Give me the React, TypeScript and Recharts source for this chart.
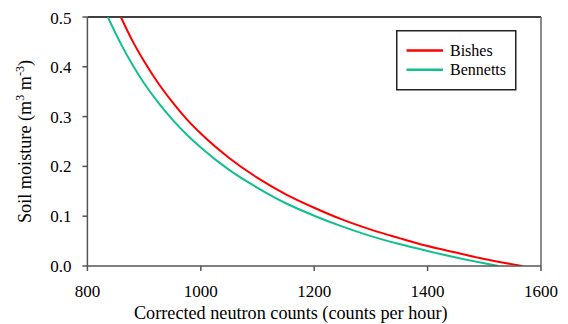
import React from 'react';
import { LineChart, Line, XAxis, YAxis, ReferenceLine } from 'recharts';

const seriesNames = ['Bishes', 'Bennetts'];
const seriesColors = ['#FF0000', '#12C08E'];

const bishesCounts = [859, 880, 900, 925, 950, 975, 1000, 1050, 1100, 1150, 1200, 1250, 1300, 1350, 1400, 1450, 1500, 1567];
const bishesMoisture = [0.5, 0.451, 0.411, 0.367, 0.329, 0.295, 0.266, 0.217, 0.177, 0.144, 0.117, 0.093, 0.073, 0.056, 0.04, 0.027, 0.014, 0.0];

const bennettsCounts = [836, 860, 880, 900, 925, 950, 975, 1000, 1050, 1100, 1150, 1200, 1250, 1300, 1350, 1400, 1450, 1525];
const bennettsMoisture = [0.5, 0.444, 0.403, 0.367, 0.328, 0.294, 0.264, 0.238, 0.193, 0.157, 0.126, 0.101, 0.079, 0.06, 0.044, 0.03, 0.017, 0.0];

const xTicks = [800, 1000, 1200, 1400, 1600];
const yTicks = [0, 0.1, 0.2, 0.3, 0.4, 0.5];

const xTitle = 'Corrected neutron counts (counts per hour)';

const bishesData = bishesCounts.map((n, i) => ({ n, m: bishesMoisture[i] }));
const bennettsData = bennettsCounts.map((n, i) => ({ n, m: bennettsMoisture[i] }));

const FONT = 'Liberation Serif, DejaVu Serif, serif';
const titleStyle: React.CSSProperties = { fontFamily: FONT, fontSize: 18.2 };
const tickStyle: React.CSSProperties = { fontFamily: FONT, fontSize: 17 };
const legendStyle: React.CSSProperties = { fontFamily: FONT, fontSize: 16 };

const YTitle = () => (
  <text
    x={23}
    y={133.5}
    transform="rotate(-90 23 133.5)"
    textAnchor="middle"
    style={titleStyle}
    fill="#000"
  >
    Soil moisture (m<tspan dy={-7} style={{ fontSize: 12 }}>3</tspan>
    <tspan dy={7}> m</tspan>
    <tspan dy={-7} style={{ fontSize: 12 }}>-3</tspan>
    <tspan dy={7}>)</tspan>
  </text>
);

const XTitle = () => (
  <text x={282.8} y={311.3} textAnchor="middle" style={titleStyle} fill="#000">
    {xTitle}
  </text>
);

export default function App() {
  return (
    <div style={{ position: 'relative', width: 560, height: 316, fontFamily: FONT }}>
      <LineChart
        width={560}
        height={316}
        margin={{ top: 9, right: 27, bottom: 0, left: 0 }}
        style={{ fontFamily: FONT }}
      >
        <XAxis
          type="number"
          dataKey="n"
          domain={[800, 1600]}
          ticks={xTicks}
          allowDataOverflow
          height={58}
          tickSize={5}
          tickMargin={14}
          axisLine={{ stroke: '#555', strokeWidth: 1.5 }}
          tickLine={{ stroke: '#555', strokeWidth: 1.5 }}
          tick={{ fill: '#000', fontSize: 17, fontFamily: FONT, style: tickStyle }}
          label={<XTitle />}
        />
        <YAxis
          type="number"
          domain={[0, 0.5]}
          ticks={yTicks}
          allowDataOverflow
          width={79.4}
          tickSize={5}
          tickMargin={11}
          tickFormatter={(v: number) => v.toFixed(1)}
          axisLine={{ stroke: '#555', strokeWidth: 1.5 }}
          tickLine={{ stroke: '#555', strokeWidth: 1.5 }}
          tick={{ fill: '#000', fontSize: 17, fontFamily: FONT, style: tickStyle }}
          label={<YTitle />}
        />
        <ReferenceLine y={0.5} stroke="#000" strokeWidth={1.5} />
        <ReferenceLine x={1600} stroke="#666" strokeWidth={1.5} />
        <Line
          data={bishesData}
          dataKey="m"
          name={seriesNames[0]}
          type="monotone"
          stroke={seriesColors[0]}
          strokeWidth={2}
          dot={false}
          isAnimationActive={false}
        />
        <Line
          data={bennettsData}
          dataKey="m"
          name={seriesNames[1]}
          type="monotone"
          stroke={seriesColors[1]}
          strokeWidth={2}
          dot={false}
          isAnimationActive={false}
        />
      </LineChart>
      <svg
        width={121}
        height={61}
        style={{ position: 'absolute', left: 388.2, top: 21.5 }}
      >
        <rect x={0.75} y={0.75} width={119} height={59} fill="#fff" stroke="#222" strokeWidth={1.5} />
        {seriesNames.map((name, i) => (
          <g key={name}>
            <line x1={10.5} x2={47} y1={20.5 + i * 19.3} y2={20.5 + i * 19.3} stroke={seriesColors[i]} strokeWidth={2.5} />
            <text
              x={54}
              y={20.5 + i * 19.3}
              dominantBaseline="central"
              style={legendStyle}
              fill="#000"
            >
              {name}
            </text>
          </g>
        ))}
      </svg>
    </div>
  );
}
